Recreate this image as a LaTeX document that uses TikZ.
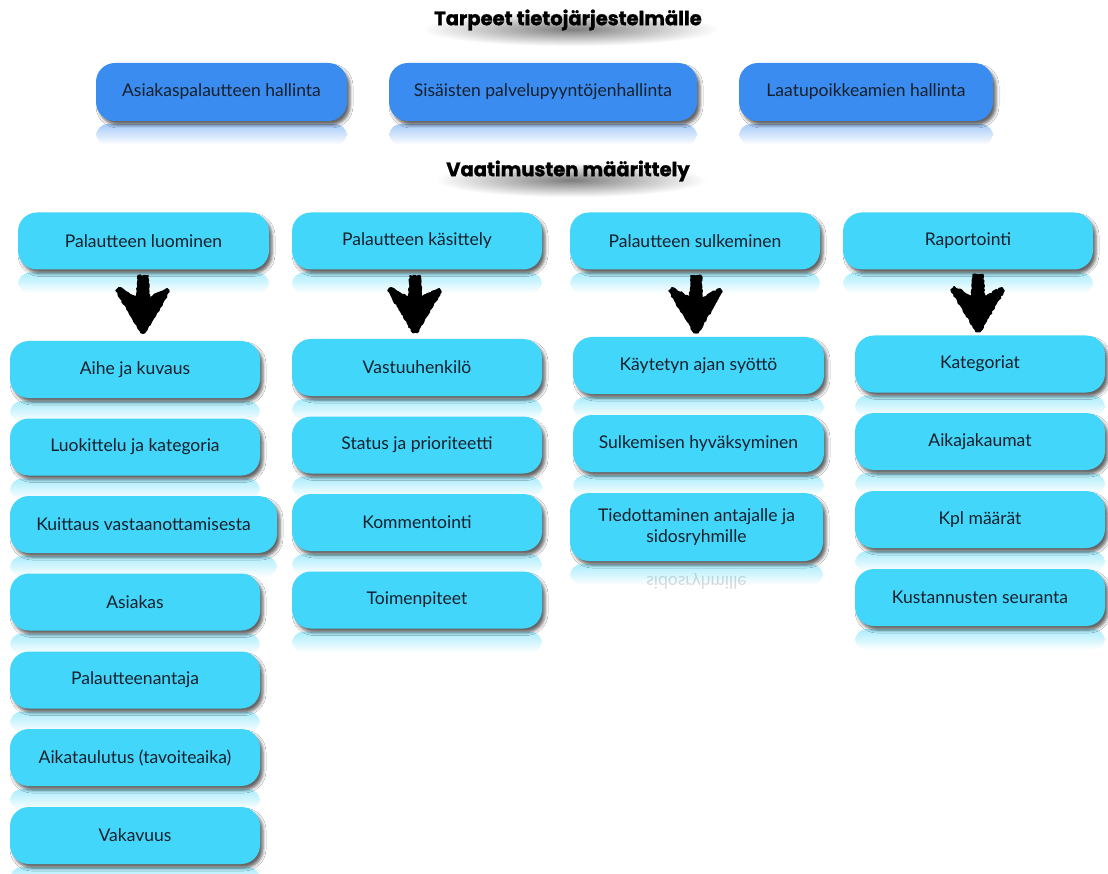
\documentclass[tikz,border=0pt]{standalone}
\usepackage{fontspec}
\setmainfont{Lato}
\newfontfamily\titlefam{Poppins}[BoldFeatures={FakeBold=1.3}]
\usetikzlibrary{shadows.blur,calc,decorations.pathmorphing,fadings}
\definecolor{topblue}{RGB}{58,140,240}
\definecolor{cyanbox}{RGB}{66,214,250}
\definecolor{boxtext}{RGB}{22,32,44}
\tikzfading[name=softglow, inner color=transparent!15, outer color=transparent!100]
\newcommand{\sketcharrow}[1]{%
  \filldraw[shift={(#1)}, line width=1.4pt, line join=round,
    decorate, decoration={random steps, segment length=2.2pt, amplitude=0.8pt}]
    (-5,0) -- (5,0) -- (6,22) -- (24,13) -- (26,16) -- (2,57) -- (-2,57)
    -- (-27,15) -- (-24,12) -- (-6,22) -- cycle;}
\begin{document}
\begin{tikzpicture}[x=1pt,y=-1pt,
  box/.style={rounded corners=19pt, minimum height=57pt, inner sep=0pt,
    align=center, font=\fontsize{17.5}{21}\selectfont, text=boxtext,
    blur shadow={shadow xshift=3pt, shadow yshift=-4pt,
      shadow blur radius=3pt, shadow opacity=60}},
  lb/.style={box, fill=cyanbox},
  db/.style={box, fill=topblue},
  titlefont/.style={font=\titlefam\fontsize{19.5}{22}\bfseries\selectfont, text=black, inner sep=0pt},
  glow/.style={fill=black, opacity=0.6, path fading=softglow}]
\fill[white] (0,0) rectangle (1108,874);
\useasboundingbox (0,0) rectangle (1108,874);

% soft shadows beneath the titles, then the titles
\path[glow] (423,12) rectangle (718,46);
\path[glow] (436,163) rectangle (706,197);
\node[titlefont] (ttl1) at (568,20) {Tarpeet tietojärjestelmälle};
\node[titlefont] (ttl2) at (568,171) {Vaatimusten määrittely};

% reflections under every box (drawn first)
\foreach \n/\x/\y/\w/\h/\c in {t1/221.5/92/251/58/topblue, t2/543/92/308/58/topblue, t3/866/92/254/58/topblue,
  p1/143.5/241/251/57/cyanbox, p2/417/241/250/57/cyanbox, p3/695/241/250/57/cyanbox, p4/968/241/250/57/cyanbox,
  a1/135/369.5/250/57/cyanbox, a2/135/447/250/57/cyanbox, a3/143.5/524.5/267/57/cyanbox, a4/135/602/250/57/cyanbox,
  a5/135/680/250/57/cyanbox, a6/135/757.5/250/57/cyanbox, a7/135/835.5/250/57/cyanbox,
  b1/417/367.5/250/57/cyanbox, b2/417/445/250/57/cyanbox, b3/417/522.5/250/57/cyanbox, b4/417/600/250/57/cyanbox,
  c1/698.5/365.5/251/57/cyanbox, c2/698.5/443.5/251/57/cyanbox, c3/696.5/527/253/68/cyanbox,
  d1/980/364/250/57/cyanbox, d2/980/441.5/250/57/cyanbox, d3/980/519.5/250/57/cyanbox, d4/980/597.5/250/57/cyanbox}
  {\path (\x,\y) ++(-\w/2,\h/2) coordinate (\n sw) ++(\w,0) coordinate (\n se);
   \path[top color=\c!45, bottom color=white, rounded corners=12pt]
     ($(\n sw)+(0,3)$) rectangle ($(\n se)+(0,24)$);}

% faint mirrored text under c3
\node[yscale=-1, transform shape, font=\fontsize{17.5}{21}\selectfont, text=boxtext,
  opacity=0.16, inner sep=0pt] (mir) at (696.5,581) {sidosryhmille};

\node[db, minimum width=251pt, minimum height=58pt] (t1) at (221.5,92) {Asiakaspalautteen hallinta};
\node[db, minimum width=308pt, minimum height=58pt] (t2) at (543,92) {Sisäisten palvelupyyntöjenhallinta};
\node[db, minimum width=254pt, minimum height=58pt] (t3) at (866,92) {Laatupoikkeamien hallinta};

\node[lb, minimum width=251pt] (p1) at (143.5,241) {Palautteen luominen};
\node[lb, minimum width=250pt] (p2) at (417,241) {Palautteen käsittely};
\node[lb, minimum width=250pt] (p3) at (695,241) {Palautteen sulkeminen};
\node[lb, minimum width=250pt] (p4) at (968,241) {Raportointi};

\node[lb, minimum width=250pt] (a1) at (135,369.5) {Aihe ja kuvaus};
\node[lb, minimum width=250pt] (a2) at (135,447) {Luokittelu ja kategoria};
\node[lb, minimum width=267pt] (a3) at (143.5,524.5) {Kuittaus vastaanottamisesta};
\node[lb, minimum width=250pt] (a4) at (135,602) {Asiakas};
\node[lb, minimum width=250pt] (a5) at (135,680) {Palautteenantaja};
\node[lb, minimum width=250pt] (a6) at (135,757.5) {Aikataulutus (tavoiteaika)};
\node[lb, minimum width=250pt] (a7) at (135,835.5) {Vakavuus};

\node[lb, minimum width=250pt] (b1) at (417,367.5) {Vastuuhenkilö};
\node[lb, minimum width=250pt] (b2) at (417,445) {Status ja prioriteetti};
\node[lb, minimum width=250pt] (b3) at (417,522.5) {Kommentointi};
\node[lb, minimum width=250pt] (b4) at (417,600) {Toimenpiteet};

\node[lb, minimum width=251pt] (c1) at (698.5,365.5) {Käytetyn ajan syöttö};
\node[lb, minimum width=251pt] (c2) at (698.5,443.5) {Sulkemisen hyväksyminen};
\node[lb, minimum width=253pt, minimum height=68pt] (c3) at (696.5,527) {Tiedottaminen antajalle ja\\sidosryhmille};

\node[lb, minimum width=250pt] (d1) at (980,364) {Kategoriat};
\node[lb, minimum width=250pt] (d2) at (980,441.5) {Aikajakaumat};
\node[lb, minimum width=250pt] (d3) at (980,519.5) {Kpl määrät};
\node[lb, minimum width=250pt] (d4) at (980,597.5) {Kustannusten seuranta};

% sketchy arrows from each heading to its first item
\coordinate (ar1) at ($(p1.south)+(-0.5,6)$);
\coordinate (ar2) at ($(p2.south)+(-2,6)$);
\coordinate (ar3) at ($(p3.south)+(1,6)$);
\coordinate (ar4) at ($(p4.south)+(10,5)$);
\sketcharrow{ar1}
\sketcharrow{ar2}
\sketcharrow{ar3}
\sketcharrow{ar4}
\end{tikzpicture}
\end{document}
